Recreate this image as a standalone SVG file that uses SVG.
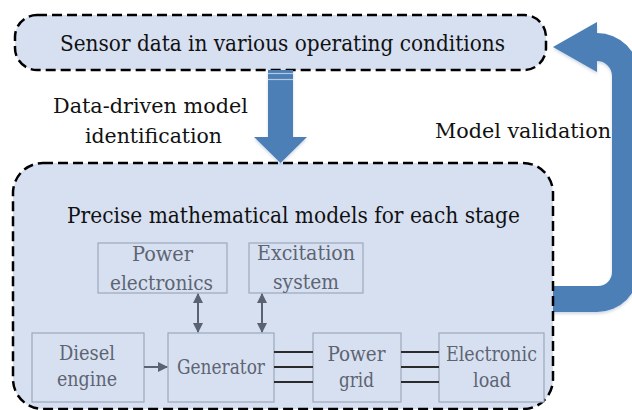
<svg xmlns="http://www.w3.org/2000/svg" width="632" height="410" viewBox="0 0 632 410">
  <defs>
    <style>
      text { font-family: "DejaVu Serif Condensed", "DejaVu Serif", serif; font-stretch: condensed; }
      .big { font-size: 22px; fill: #111; }
      .lbl { font-size: 20.5px; fill: #111; }
      .stage { fill: none; stroke: #000; stroke-width: 2.5; stroke-dasharray: 10 5; }
      .blk { fill: #d7e0f1; stroke: #9ca8bb; stroke-width: 1.2; }
      .blk-t { font-size: 20px; fill: #5d6472; text-anchor: middle; }
      .flow { fill: #4b7fb6; }
      .link { stroke: #5b6272; stroke-width: 2; fill: none; }
      .phase { stroke: #2b2b2b; stroke-width: 2; }
    </style>
    <marker id="ah" viewBox="0 0 10 10" refX="9" refY="5" markerWidth="5" markerHeight="5" orient="auto-start-reverse" markerUnits="strokeWidth">
      <path d="M0,0 L10,5 L0,10 Z" fill="#5b6272"/>
    </marker>
    <filter id="sh" x="-10%" y="-10%" width="130%" height="130%">
      <feDropShadow dx="0" dy="2" stdDeviation="1.5" flood-color="#7d93b3" flood-opacity="0.35"/>
    </filter>
  </defs>

  <rect width="632" height="410" fill="#ffffff"/>

  <!-- feedback arrow back to the sensor data -->
  <g id="validation-arrow">
    <path class="flow" filter="url(#sh)" d="M552,286 L598,286 A14,14 0 0 0 612,272 L612,76 A15,15 0 0 0 597,61 L597,72 L553,47 L597,22 L597,33 A42,42 0 0 1 639,75 L639,270 A42,42 0 0 1 597,312 L552,312 Z"/>
  </g>

  <!-- sensor data box -->
  <g id="sensor-data">
    <rect x="15" y="15" width="531" height="55" rx="22" ry="22" fill="#d7e0f1"/>
    <rect class="stage" x="15" y="15" width="531" height="55" rx="22" ry="22"/>
    <text class="big" x="282.5" y="51" text-anchor="middle" textLength="445" lengthAdjust="spacingAndGlyphs">Sensor data in various operating conditions</text>
  </g>

  <!-- stage models container -->
  <g id="stage-models">
    <rect x="13" y="163" width="540" height="246" rx="30" ry="30" fill="#d7e0f1"/>
    <rect class="stage" x="13" y="163" width="540" height="246" rx="30" ry="30"/>
    <text class="big" x="293.5" y="223" text-anchor="middle" textLength="453" lengthAdjust="spacingAndGlyphs">Precise mathematical models for each stage</text>
  </g>

  <!-- identification arrow -->
  <g id="identification-arrow">
    <path class="flow" filter="url(#sh)" d="M268,70 L293,70 L293,137 L307,137 L280.5,163 L254,137 L268,137 Z"/>
    <line x1="268" y1="73.5" x2="293" y2="73.5" stroke="#b8c9df" stroke-width="1.2"/>
    <line x1="268" y1="79.5" x2="293" y2="79.5" stroke="#b8c9df" stroke-width="1.2"/>
  </g>

  <!-- labels -->
  <g id="labels">
    <text class="lbl" x="150.5" y="113" text-anchor="middle" textLength="195" lengthAdjust="spacingAndGlyphs">Data-driven model</text>
    <text class="lbl" x="153.5" y="143" text-anchor="middle" textLength="137" lengthAdjust="spacingAndGlyphs">identification</text>
    <text class="lbl" x="523" y="138" text-anchor="middle" textLength="176" lengthAdjust="spacingAndGlyphs">Model validation</text>
  </g>

  <!-- component blocks -->
  <g id="power-electronics">
    <rect class="blk" x="98" y="243" width="129" height="50"/>
    <text class="blk-t" x="162.5" y="261" textLength="61" lengthAdjust="spacingAndGlyphs">Power</text>
    <text class="blk-t" x="161.5" y="290" textLength="103" lengthAdjust="spacingAndGlyphs">electronics</text>
  </g>
  <g id="excitation-system">
    <rect class="blk" x="249" y="243" width="114" height="50"/>
    <text class="blk-t" x="306" y="260" textLength="98" lengthAdjust="spacingAndGlyphs">Excitation</text>
    <text class="blk-t" x="306" y="289" textLength="66" lengthAdjust="spacingAndGlyphs">system</text>
  </g>
  <g id="diesel-engine">
    <rect class="blk" x="32" y="333" width="112" height="69"/>
    <text class="blk-t" x="87" y="360" textLength="56" lengthAdjust="spacingAndGlyphs">Diesel</text>
    <text class="blk-t" x="87" y="386" textLength="60" lengthAdjust="spacingAndGlyphs">engine</text>
  </g>
  <g id="generator">
    <rect class="blk" x="168" y="333" width="106" height="69"/>
    <text class="blk-t" x="221" y="374" textLength="88" lengthAdjust="spacingAndGlyphs">Generator</text>
  </g>
  <g id="power-grid">
    <rect class="blk" x="313" y="333" width="88" height="69"/>
    <text class="blk-t" x="356.5" y="361" textLength="58" lengthAdjust="spacingAndGlyphs">Power</text>
    <text class="blk-t" x="356.5" y="387" textLength="35" lengthAdjust="spacingAndGlyphs">grid</text>
  </g>
  <g id="electronic-load">
    <rect class="blk" x="439" y="333" width="105" height="69"/>
    <text class="blk-t" x="491.5" y="361" textLength="91" lengthAdjust="spacingAndGlyphs">Electronic</text>
    <text class="blk-t" x="492" y="387" textLength="38" lengthAdjust="spacingAndGlyphs">load</text>
  </g>

  <!-- connectors -->
  <g id="connectors">
    <line class="link" x1="144" y1="367" x2="167" y2="367" marker-end="url(#ah)"/>
    <line class="link" x1="198" y1="294" x2="198" y2="332" marker-start="url(#ah)" marker-end="url(#ah)"/>
    <line class="link" x1="262" y1="294" x2="262" y2="332" marker-start="url(#ah)" marker-end="url(#ah)"/>
    <line class="phase" x1="274" y1="352" x2="313" y2="352"/>
    <line class="phase" x1="274" y1="367" x2="313" y2="367"/>
    <line class="phase" x1="274" y1="382" x2="313" y2="382"/>
    <line class="phase" x1="401" y1="352" x2="439" y2="352"/>
    <line class="phase" x1="401" y1="367" x2="439" y2="367"/>
    <line class="phase" x1="401" y1="382" x2="439" y2="382"/>
  </g>
</svg>
